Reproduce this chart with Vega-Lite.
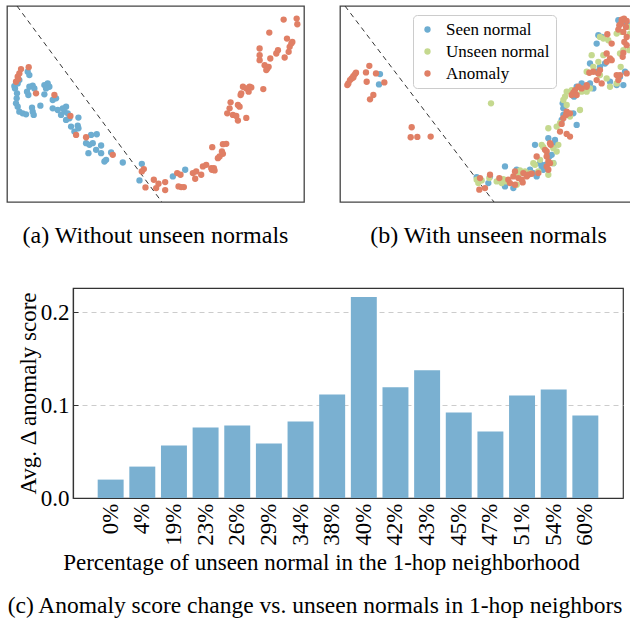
{
"$schema": "https://vega.github.io/schema/vega-lite/v6.json",
"padding": {"left": 6, "top": 5, "right": 0, "bottom": 0},
"background": "white",
"config": {"font": "Liberation Serif", "view": {"stroke": "#444", "strokeWidth": 1.3}},
"datasets": {
"lineA": [{"x": 4.8, "y": 60.3}, {"x": 48.2, "y": 1.3}],
"lineB": [{"x": 3.5, "y": 60.3}, {"x": 48.2, "y": 1.3}],
"pa": [
{"x":8.0,"y":40.5,"type":"Seen normal"},{"x":8.5,"y":39.5,"type":"Seen normal"},{"x":4.2,"y":35.5,"type":"Seen normal"},{"x":4.0,"y":36.2,"type":"Seen normal"},{"x":5.0,"y":37.0,"type":"Seen normal"},{"x":5.5,"y":38.0,"type":"Seen normal"},{"x":8.5,"y":36.0,"type":"Seen normal"},{"x":9.5,"y":36.3,"type":"Seen normal"},{"x":10.0,"y":35.5,"type":"Seen normal"},{"x":8.2,"y":33.5,"type":"Seen normal"},{"x":7.8,"y":34.5,"type":"Seen normal"},{"x":14.0,"y":37.0,"type":"Seen normal"},{"x":13.0,"y":36.5,"type":"Seen normal"},{"x":14.5,"y":36.0,"type":"Seen normal"},{"x":13.5,"y":35.5,"type":"Seen normal"},{"x":13.0,"y":33.7,"type":"Seen normal"},{"x":15.5,"y":32.0,"type":"Seen normal"},{"x":16.5,"y":32.5,"type":"Seen normal"},{"x":4.7,"y":32.5,"type":"Seen normal"},{"x":4.8,"y":34.0,"type":"Seen normal"},{"x":4.5,"y":31.0,"type":"Seen normal"},{"x":5.0,"y":30.0,"type":"Seen normal"},{"x":5.5,"y":28.5,"type":"Seen normal"},{"x":6.5,"y":28.0,"type":"Seen normal"},{"x":7.5,"y":27.7,"type":"Seen normal"},{"x":9.5,"y":28.5,"type":"Seen normal"},{"x":9.8,"y":27.5,"type":"Seen normal"},{"x":9.3,"y":29.7,"type":"Seen normal"},{"x":11.8,"y":30.3,"type":"Seen normal"},{"x":15.5,"y":29.5,"type":"Seen normal"},{"x":17.0,"y":29.0,"type":"Seen normal"},{"x":18.5,"y":29.5,"type":"Seen normal"},{"x":19.5,"y":30.0,"type":"Seen normal"},{"x":19.0,"y":28.5,"type":"Seen normal"},{"x":18.0,"y":27.5,"type":"Seen normal"},{"x":20.0,"y":28.0,"type":"Seen normal"},{"x":20.5,"y":26.5,"type":"Seen normal"},{"x":23.2,"y":26.7,"type":"Seen normal"},{"x":23.0,"y":24.3,"type":"Seen normal"},{"x":21.0,"y":24.0,"type":"Seen normal"},{"x":22.0,"y":22.5,"type":"Seen normal"},{"x":23.2,"y":23.5,"type":"Seen normal"},{"x":19.5,"y":26.0,"type":"Seen normal"},{"x":27.0,"y":21.5,"type":"Seen normal"},{"x":28.7,"y":21.7,"type":"Seen normal"},{"x":25.5,"y":19.0,"type":"Seen normal"},{"x":26.5,"y":18.5,"type":"Seen normal"},{"x":27.5,"y":19.0,"type":"Seen normal"},{"x":26.2,"y":16.0,"type":"Seen normal"},{"x":28.5,"y":17.0,"type":"Seen normal"},{"x":30.0,"y":18.3,"type":"Seen normal"},{"x":30.0,"y":16.0,"type":"Seen normal"},{"x":33.0,"y":16.2,"type":"Seen normal"},{"x":31.5,"y":14.0,"type":"Seen normal"},{"x":31.0,"y":13.5,"type":"Seen normal"},{"x":36.5,"y":13.2,"type":"Seen normal"},{"x":42.2,"y":12.8,"type":"Seen normal"},{"x":41.5,"y":7.8,"type":"Seen normal"},{"x":51.5,"y":9.0,"type":"Seen normal"},{"x":55.2,"y":11.0,"type":"Seen normal"},
{"x":6.0,"y":41.3,"type":"Anomaly"},{"x":8.3,"y":41.9,"type":"Anomaly"},{"x":5.5,"y":40.0,"type":"Anomaly"},{"x":5.0,"y":39.0,"type":"Anomaly"},{"x":4.5,"y":37.5,"type":"Anomaly"},{"x":5.2,"y":38.3,"type":"Anomaly"},{"x":10.5,"y":34.0,"type":"Anomaly"},{"x":16.0,"y":33.5,"type":"Anomaly"},{"x":20.8,"y":27.2,"type":"Anomaly"},{"x":22.5,"y":21.5,"type":"Anomaly"},{"x":25.5,"y":20.8,"type":"Anomaly"},{"x":33.5,"y":15.5,"type":"Anomaly"},{"x":42.8,"y":11.2,"type":"Anomaly"},{"x":42.2,"y":10.5,"type":"Anomaly"},{"x":43.3,"y":5.7,"type":"Anomaly"},{"x":45.8,"y":8.0,"type":"Anomaly"},{"x":47.2,"y":6.8,"type":"Anomaly"},{"x":46.5,"y":5.5,"type":"Anomaly"},{"x":49.2,"y":7.3,"type":"Anomaly"},{"x":49.2,"y":4.9,"type":"Anomaly"},{"x":52.8,"y":10.0,"type":"Anomaly"},{"x":53.8,"y":9.5,"type":"Anomaly"},{"x":53.2,"y":6.0,"type":"Anomaly"},{"x":54.0,"y":5.8,"type":"Anomaly"},{"x":54.8,"y":5.8,"type":"Anomaly"},{"x":57.5,"y":10.0,"type":"Anomaly"},{"x":58.5,"y":10.5,"type":"Anomaly"},{"x":60.0,"y":9.5,"type":"Anomaly"},{"x":58.2,"y":8.3,"type":"Anomaly"},{"x":60.5,"y":12.0,"type":"Anomaly"},{"x":61.5,"y":12.5,"type":"Anomaly"},{"x":63.0,"y":11.5,"type":"Anomaly"},{"x":63.8,"y":11.5,"type":"Anomaly"},{"x":63.2,"y":11.0,"type":"Anomaly"},{"x":64.0,"y":10.8,"type":"Anomaly"},{"x":63.3,"y":17.8,"type":"Anomaly"},{"x":65.0,"y":14.5,"type":"Anomaly"},{"x":65.5,"y":15.0,"type":"Anomaly"},{"x":66.2,"y":16.5,"type":"Anomaly"},{"x":66.5,"y":15.8,"type":"Anomaly"},{"x":66.5,"y":18.7,"type":"Anomaly"},{"x":67.5,"y":18.8,"type":"Anomaly"},{"x":68.8,"y":31.3,"type":"Anomaly"},{"x":71.0,"y":30.5,"type":"Anomaly"},{"x":71.5,"y":30.0,"type":"Anomaly"},{"x":68.5,"y":29.5,"type":"Anomaly"},{"x":67.8,"y":28.0,"type":"Anomaly"},{"x":69.5,"y":27.5,"type":"Anomaly"},{"x":70.5,"y":27.2,"type":"Anomaly"},{"x":71.0,"y":25.8,"type":"Anomaly"},{"x":73.5,"y":26.6,"type":"Anomaly"},{"x":72.5,"y":36.0,"type":"Anomaly"},{"x":73.5,"y":35.5,"type":"Anomaly"},{"x":74.5,"y":36.0,"type":"Anomaly"},{"x":75.0,"y":35.8,"type":"Anomaly"},{"x":72.0,"y":34.0,"type":"Anomaly"},{"x":71.8,"y":33.5,"type":"Anomaly"},{"x":74.2,"y":34.5,"type":"Anomaly"},{"x":78.6,"y":35.3,"type":"Anomaly"},{"x":77.5,"y":47.5,"type":"Anomaly"},{"x":77.5,"y":45.5,"type":"Anomaly"},{"x":77.5,"y":44.0,"type":"Anomaly"},{"x":79.0,"y":42.5,"type":"Anomaly"},{"x":79.8,"y":41.5,"type":"Anomaly"},{"x":80.2,"y":42.0,"type":"Anomaly"},{"x":79.5,"y":41.0,"type":"Anomaly"},{"x":80.7,"y":44.5,"type":"Anomaly"},{"x":80.4,"y":52.3,"type":"Anomaly"},{"x":82.5,"y":46.0,"type":"Anomaly"},{"x":83.0,"y":47.0,"type":"Anomaly"},{"x":85.0,"y":44.8,"type":"Anomaly"},{"x":86.2,"y":46.5,"type":"Anomaly"},{"x":86.5,"y":48.0,"type":"Anomaly"},{"x":87.0,"y":49.0,"type":"Anomaly"},{"x":87.3,"y":49.5,"type":"Anomaly"},{"x":85.7,"y":50.5,"type":"Anomaly"},{"x":84.7,"y":56.2,"type":"Anomaly"},{"x":88.6,"y":56.5,"type":"Anomaly"},{"x":88.8,"y":54.8,"type":"Anomaly"}
],
"pb": [
{"x":14.0,"y":39.8,"type":"Seen normal"},{"x":13.7,"y":36.7,"type":"Seen normal"},{"x":43.0,"y":8.8,"type":"Seen normal"},{"x":46.5,"y":7.0,"type":"Seen normal"},{"x":47.0,"y":9.0,"type":"Seen normal"},{"x":51.5,"y":12.0,"type":"Seen normal"},{"x":51.5,"y":6.0,"type":"Seen normal"},{"x":54.0,"y":5.5,"type":"Seen normal"},{"x":55.0,"y":11.0,"type":"Seen normal"},{"x":60.5,"y":18.5,"type":"Seen normal"},{"x":61.0,"y":9.0,"type":"Seen normal"},{"x":62.0,"y":13.0,"type":"Seen normal"},{"x":62.5,"y":12.0,"type":"Seen normal"},{"x":63.0,"y":11.0,"type":"Seen normal"},{"x":63.5,"y":12.5,"type":"Seen normal"},{"x":64.5,"y":20.5,"type":"Seen normal"},{"x":64.8,"y":15.0,"type":"Seen normal"},{"x":65.5,"y":15.5,"type":"Seen normal"},{"x":66.0,"y":13.0,"type":"Seen normal"},{"x":66.5,"y":20.0,"type":"Seen normal"},{"x":66.5,"y":18.5,"type":"Seen normal"},{"x":60.0,"y":10.0,"type":"Seen normal"},{"x":59.0,"y":11.0,"type":"Seen normal"},{"x":79.5,"y":51.5,"type":"Seen normal"},{"x":80.5,"y":51.0,"type":"Seen normal"},{"x":79.0,"y":49.0,"type":"Seen normal"},{"x":77.0,"y":43.0,"type":"Seen normal"},{"x":80.0,"y":42.0,"type":"Seen normal"},{"x":81.5,"y":43.0,"type":"Seen normal"},{"x":79.0,"y":40.5,"type":"Seen normal"},{"x":83.0,"y":37.5,"type":"Seen normal"},{"x":85.0,"y":36.5,"type":"Seen normal"},{"x":87.0,"y":36.5,"type":"Seen normal"},{"x":86.0,"y":39.0,"type":"Seen normal"},{"x":87.5,"y":40.5,"type":"Seen normal"},{"x":73.0,"y":24.5,"type":"Seen normal"},{"x":72.0,"y":28.0,"type":"Seen normal"},{"x":69.0,"y":29.5,"type":"Seen normal"},{"x":69.0,"y":27.5,"type":"Seen normal"},{"x":68.5,"y":26.0,"type":"Seen normal"},{"x":73.0,"y":36.0,"type":"Seen normal"},{"x":72.2,"y":33.0,"type":"Seen normal"},{"x":77.0,"y":37.0,"type":"Seen normal"},{"x":74.5,"y":37.0,"type":"Seen normal"},{"x":85.5,"y":56.0,"type":"Seen normal"},{"x":88.0,"y":55.0,"type":"Seen normal"},{"x":78.0,"y":35.5,"type":"Seen normal"},{"x":68.8,"y":31.0,"type":"Seen normal"},
{"x":47.3,"y":31.0,"type":"Unseen normal"},{"x":43.0,"y":8.0,"type":"Unseen normal"},{"x":44.5,"y":7.8,"type":"Unseen normal"},{"x":46.8,"y":8.5,"type":"Unseen normal"},{"x":49.0,"y":7.5,"type":"Unseen normal"},{"x":50.5,"y":7.0,"type":"Unseen normal"},{"x":51.0,"y":8.2,"type":"Unseen normal"},{"x":52.0,"y":7.5,"type":"Unseen normal"},{"x":55.0,"y":9.5,"type":"Unseen normal"},{"x":56.0,"y":10.8,"type":"Unseen normal"},{"x":56.5,"y":10.0,"type":"Unseen normal"},{"x":57.5,"y":10.5,"type":"Unseen normal"},{"x":59.0,"y":10.0,"type":"Unseen normal"},{"x":60.0,"y":13.0,"type":"Unseen normal"},{"x":60.5,"y":12.5,"type":"Unseen normal"},{"x":61.5,"y":10.5,"type":"Unseen normal"},{"x":62.0,"y":14.0,"type":"Unseen normal"},{"x":62.5,"y":18.5,"type":"Unseen normal"},{"x":63.0,"y":17.8,"type":"Unseen normal"},{"x":66.0,"y":17.5,"type":"Unseen normal"},{"x":67.5,"y":18.5,"type":"Unseen normal"},{"x":64.5,"y":9.5,"type":"Unseen normal"},{"x":66.0,"y":13.0,"type":"Unseen normal"},{"x":67.0,"y":16.5,"type":"Unseen normal"},{"x":55.0,"y":6.5,"type":"Unseen normal"},{"x":43.5,"y":7.0,"type":"Unseen normal"},{"x":80.0,"y":51.0,"type":"Unseen normal"},{"x":81.0,"y":50.5,"type":"Unseen normal"},{"x":82.5,"y":50.0,"type":"Unseen normal"},{"x":81.0,"y":45.5,"type":"Unseen normal"},{"x":77.5,"y":45.5,"type":"Unseen normal"},{"x":79.5,"y":43.5,"type":"Unseen normal"},{"x":78.0,"y":42.0,"type":"Unseen normal"},{"x":76.0,"y":40.5,"type":"Unseen normal"},{"x":80.0,"y":39.5,"type":"Unseen normal"},{"x":82.0,"y":38.5,"type":"Unseen normal"},{"x":83.0,"y":36.0,"type":"Unseen normal"},{"x":85.0,"y":37.0,"type":"Unseen normal"},{"x":86.2,"y":42.0,"type":"Unseen normal"},{"x":86.0,"y":46.0,"type":"Unseen normal"},{"x":87.0,"y":47.0,"type":"Unseen normal"},{"x":88.5,"y":54.0,"type":"Unseen normal"},{"x":88.8,"y":47.0,"type":"Unseen normal"},{"x":85.0,"y":52.0,"type":"Unseen normal"},{"x":77.0,"y":35.5,"type":"Unseen normal"},{"x":75.5,"y":35.5,"type":"Unseen normal"},{"x":74.5,"y":34.5,"type":"Unseen normal"},{"x":76.0,"y":34.5,"type":"Unseen normal"},{"x":70.0,"y":34.5,"type":"Unseen normal"},{"x":69.5,"y":33.0,"type":"Unseen normal"},{"x":69.0,"y":32.0,"type":"Unseen normal"},{"x":70.0,"y":30.5,"type":"Unseen normal"},{"x":74.0,"y":29.0,"type":"Unseen normal"},{"x":71.0,"y":27.0,"type":"Unseen normal"},{"x":68.0,"y":25.0,"type":"Unseen normal"},{"x":67.0,"y":24.0,"type":"Unseen normal"},{"x":64.5,"y":23.5,"type":"Unseen normal"},{"x":71.5,"y":35.0,"type":"Unseen normal"},{"x":89.0,"y":52.0,"type":"Unseen normal"},{"x":86.5,"y":52.5,"type":"Unseen normal"},
{"x":4.2,"y":36.5,"type":"Anomaly"},{"x":4.5,"y":37.0,"type":"Anomaly"},{"x":5.0,"y":38.0,"type":"Anomaly"},{"x":5.5,"y":38.5,"type":"Anomaly"},{"x":6.0,"y":39.2,"type":"Anomaly"},{"x":6.5,"y":39.8,"type":"Anomaly"},{"x":6.8,"y":40.2,"type":"Anomaly"},{"x":6.0,"y":38.8,"type":"Anomaly"},{"x":9.8,"y":40.3,"type":"Anomaly"},{"x":10.8,"y":42.3,"type":"Anomaly"},{"x":12.8,"y":40.0,"type":"Anomaly"},{"x":10.0,"y":37.5,"type":"Anomaly"},{"x":12.0,"y":33.5,"type":"Anomaly"},{"x":11.0,"y":32.2,"type":"Anomaly"},{"x":15.3,"y":37.3,"type":"Anomaly"},{"x":23.5,"y":23.8,"type":"Anomaly"},{"x":23.2,"y":20.8,"type":"Anomaly"},{"x":25.2,"y":20.9,"type":"Anomaly"},{"x":29.2,"y":21.0,"type":"Anomaly"},
{"x":44.0,"y":8.5,"type":"Anomaly"},{"x":43.8,"y":5.0,"type":"Anomaly"},{"x":45.5,"y":5.5,"type":"Anomaly"},{"x":47.0,"y":9.5,"type":"Anomaly"},{"x":49.8,"y":8.5,"type":"Anomaly"},{"x":52.5,"y":8.0,"type":"Anomaly"},{"x":53.0,"y":7.0,"type":"Anomaly"},{"x":54.0,"y":9.0,"type":"Anomaly"},{"x":54.5,"y":6.5,"type":"Anomaly"},{"x":55.5,"y":8.5,"type":"Anomaly"},{"x":56.5,"y":8.0,"type":"Anomaly"},{"x":56.8,"y":7.2,"type":"Anomaly"},{"x":58.0,"y":9.0,"type":"Anomaly"},{"x":58.5,"y":9.5,"type":"Anomaly"},{"x":59.5,"y":9.8,"type":"Anomaly"},{"x":61.0,"y":15.0,"type":"Anomaly"},{"x":63.5,"y":17.0,"type":"Anomaly"},{"x":64.0,"y":16.5,"type":"Anomaly"},{"x":64.5,"y":13.5,"type":"Anomaly"},{"x":64.0,"y":12.0,"type":"Anomaly"},{"x":64.5,"y":11.0,"type":"Anomaly"},{"x":65.0,"y":13.0,"type":"Anomaly"},{"x":65.0,"y":19.0,"type":"Anomaly"},{"x":65.2,"y":18.5,"type":"Anomaly"},{"x":68.0,"y":22.5,"type":"Anomaly"},{"x":70.0,"y":21.8,"type":"Anomaly"},{"x":71.0,"y":21.0,"type":"Anomaly"},{"x":54.5,"y":10.5,"type":"Anomaly"},{"x":57.0,"y":10.0,"type":"Anomaly"},{"x":61.5,"y":10.0,"type":"Anomaly"},{"x":64.0,"y":15.0,"type":"Anomaly"},
{"x":86.5,"y":56.2,"type":"Anomaly"},{"x":87.2,"y":56.5,"type":"Anomaly"},{"x":88.0,"y":55.8,"type":"Anomaly"},{"x":85.8,"y":54.5,"type":"Anomaly"},{"x":86.3,"y":55.0,"type":"Anomaly"},{"x":87.8,"y":54.0,"type":"Anomaly"},{"x":85.5,"y":53.2,"type":"Anomaly"},{"x":87.0,"y":52.5,"type":"Anomaly"},{"x":88.0,"y":51.0,"type":"Anomaly"},{"x":87.3,"y":49.5,"type":"Anomaly"},{"x":88.0,"y":48.5,"type":"Anomaly"},{"x":87.0,"y":46.2,"type":"Anomaly"},{"x":86.8,"y":45.0,"type":"Anomaly"},{"x":82.2,"y":51.8,"type":"Anomaly"},{"x":83.5,"y":49.0,"type":"Anomaly"},{"x":82.0,"y":46.0,"type":"Anomaly"},{"x":83.0,"y":44.5,"type":"Anomaly"},{"x":83.5,"y":44.0,"type":"Anomaly"},{"x":82.0,"y":43.5,"type":"Anomaly"},{"x":80.0,"y":41.0,"type":"Anomaly"},{"x":78.0,"y":40.5,"type":"Anomaly"},{"x":79.5,"y":40.0,"type":"Anomaly"},{"x":76.8,"y":40.2,"type":"Anomaly"},{"x":79.0,"y":38.0,"type":"Anomaly"},{"x":76.0,"y":36.5,"type":"Anomaly"},{"x":74.5,"y":35.5,"type":"Anomaly"},{"x":73.5,"y":36.0,"type":"Anomaly"},{"x":72.5,"y":35.0,"type":"Anomaly"},{"x":72.0,"y":34.2,"type":"Anomaly"},{"x":71.5,"y":33.5,"type":"Anomaly"},{"x":73.0,"y":33.5,"type":"Anomaly"},{"x":76.0,"y":36.0,"type":"Anomaly"},{"x":80.5,"y":37.0,"type":"Anomaly"},{"x":85.0,"y":39.5,"type":"Anomaly"},{"x":86.0,"y":39.5,"type":"Anomaly"},{"x":85.5,"y":38.0,"type":"Anomaly"},{"x":88.0,"y":40.0,"type":"Anomaly"},{"x":70.0,"y":28.5,"type":"Anomaly"},{"x":69.8,"y":27.5,"type":"Anomaly"},{"x":69.0,"y":26.5,"type":"Anomaly"},{"x":71.0,"y":28.0,"type":"Anomaly"},{"x":68.5,"y":24.8,"type":"Anomaly"}
],
"bars": [
{"pct":"0%","v":0.0198},{"pct":"4%","v":0.0338},{"pct":"19%","v":0.0565},{"pct":"23%","v":0.0759},{"pct":"26%","v":0.0781},{"pct":"29%","v":0.0586},{"pct":"34%","v":0.0824},{"pct":"38%","v":0.1115},{"pct":"40%","v":0.2162},{"pct":"42%","v":0.1191},{"pct":"43%","v":0.1374},{"pct":"45%","v":0.0921},{"pct":"47%","v":0.0716},{"pct":"51%","v":0.1104},{"pct":"54%","v":0.1169},{"pct":"60%","v":0.0888}
]
},
"spacing": 38,
"vconcat": [
{
"spacing": 34,
"resolve": {"scale": {"color": "independent"}, "legend": {"color": "independent"}},
"hconcat": [
{
"width": 297, "height": 196,
"title": {"text": "(a) Without unseen normals", "orient": "bottom", "offset": 22, "fontSize": 24, "fontWeight": "normal", "font": "Liberation Serif", "color": "#000"},
"layer": [
{"data": {"name": "lineA"}, "mark": {"type": "line", "strokeDash": [5, 4], "color": "#333", "strokeWidth": 1, "clip": true},
 "encoding": {"x": {"field": "x", "type": "quantitative", "scale": {"domain": [1.8, 90.8], "nice": false, "zero": false}, "axis": null},
              "y": {"field": "y", "type": "quantitative", "scale": {"domain": [1.3, 60.3], "nice": false, "zero": false}, "axis": null}}},
{"data": {"name": "pa"}, "mark": {"type": "circle", "size": 40, "opacity": 1},
 "encoding": {"x": {"field": "x", "type": "quantitative"}, "y": {"field": "y", "type": "quantitative"},
              "color": {"field": "type", "type": "nominal", "scale": {"domain": ["Seen normal", "Unseen normal", "Anomaly"], "range": ["#6DADD1", "#C5D98F", "#E07F65"]}, "legend": null}}}
]
},
{
"width": 297, "height": 196,
"title": {"text": "(b) With unseen normals", "orient": "bottom", "offset": 22, "fontSize": 24, "fontWeight": "normal", "font": "Liberation Serif", "color": "#000"},
"layer": [
{"data": {"name": "lineB"}, "mark": {"type": "line", "strokeDash": [5, 4], "color": "#333", "strokeWidth": 1, "clip": true},
 "encoding": {"x": {"field": "x", "type": "quantitative", "scale": {"domain": [2.0, 91.1], "nice": false, "zero": false}, "axis": null},
              "y": {"field": "y", "type": "quantitative", "scale": {"domain": [1.3, 60.3], "nice": false, "zero": false}, "axis": null}}},
{"data": {"name": "pb"}, "mark": {"type": "circle", "size": 40, "opacity": 1},
 "encoding": {"x": {"field": "x", "type": "quantitative"}, "y": {"field": "y", "type": "quantitative"},
              "color": {"field": "type", "type": "nominal", "sort": null, "scale": {"domain": ["Seen normal", "Unseen normal", "Anomaly"], "range": ["#6DADD1", "#C5D98F", "#E07F65"]},
                        "legend": {"orient": "none", "legendX": 73, "legendY": 9, "title": null, "labelFontSize": 17, "labelFont": "Liberation Serif", "labelColor": "#000", "symbolType": "circle", "symbolSize": 40, "symbolOpacity": 1, "padding": 6, "strokeColor": "#ccc", "fillColor": "white", "cornerRadius": 4, "rowPadding": 4, "labelOffset": 10}}}}
]
}
]
},
{
"spacing": -2,
"hconcat": [
{"width": 1, "height": 10, "view": {"stroke": null}, "data": {"values": []}, "mark": "point", "encoding": {}},
{
"width": 550, "height": 210,
"data": {"name": "bars"},
"view": {"stroke": "#333", "strokeWidth": 1.2},
"title": {"text": "(c) Anomaly score change vs. unseen normals in 1-hop neighbors", "orient": "bottom", "offset": 20, "dx": -33, "fontSize": 23.5, "fontWeight": "normal", "font": "Liberation Serif", "color": "#000"},
"mark": {"type": "bar", "color": "#7AB0D1"},
"encoding": {
"x": {"field": "pct", "type": "ordinal", "sort": null, "scale": {"paddingInner": 0.18, "paddingOuter": 0.78},
      "axis": {"title": "Percentage of unseen normal in the 1-hop neighborhood", "titleX": 248, "labelAngle": -90, "labelFontSize": 23, "titleFontSize": 23, "labelFont": "Liberation Serif", "titleFont": "Liberation Serif", "titleFontWeight": "normal", "labelColor": "#000", "titleColor": "#000", "tickSize": -6, "tickColor": "#333", "labelPadding": 11, "domainColor": "#333", "domainWidth": 1.2, "titlePadding": 6}},
"y": {"field": "v", "type": "quantitative", "scale": {"domain": [0, 0.226], "nice": false},
      "axis": {"title": "Avg. Δ anomaly score", "values": [0, 0.1, 0.2], "format": ".1f", "grid": true, "gridDash": [5, 4], "gridColor": "#ccc", "labelFontSize": 23, "titleFontSize": 23, "labelFont": "Liberation Serif", "titleFont": "Liberation Serif", "titleFontWeight": "normal", "labelColor": "#000", "titleColor": "#000", "tickSize": -5, "tickColor": "#333", "labelPadding": 9, "domainColor": "#333", "domainWidth": 1.2, "titlePadding": 0}}
}
}
]
}
]
}
